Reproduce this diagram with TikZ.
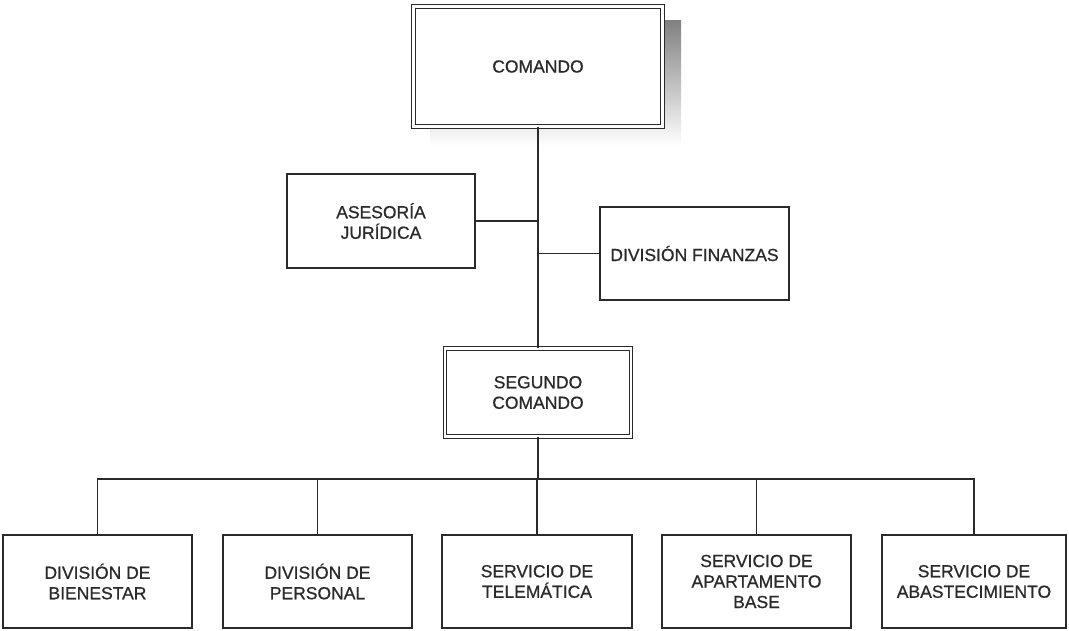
\documentclass[tikz,border=0pt]{standalone}
\usepackage{fontspec}
\setmainfont{Liberation Sans}
\definecolor{ink}{HTML}{2A2A2A}
\definecolor{shade}{HTML}{D0D2D8}
\begin{document}
\begin{tikzpicture}[x=1pt,y=-1pt,
  box/.style={draw=ink, line width=1.6pt, fill=white, text=ink, align=center,
    inner sep=2pt, font=\fontsize{17.5}{20.5}\selectfont\addfontfeatures{FakeBold=0.7}},
  dbox/.style={box, double=white, double distance=2.2pt, line width=1.2pt},
  link/.style={draw=ink, line width=1.6pt}]
\useasboundingbox (0,0) rectangle (1069,630);
\fill[shade] (430,20) rectangle (681,146);
\node[dbox, minimum width=249pt, minimum height=120pt] (com) at (538,66.5) {COMANDO};
\node[box, minimum width=188pt, minimum height=94pt] (ase) at (381,221) {ASESORÍA\\JURÍDICA};
\node[box, minimum width=189pt, minimum height=93pt] (fin) at (694.5,253.5) {DIVISIÓN FINANZAS};
\node[dbox, minimum width=186pt, minimum height=88pt] (seg) at (538,392.5) {SEGUNDO\\COMANDO};
\node[box, minimum width=189pt, minimum height=93pt] (b1) at (97.5,581.5) {DIVISIÓN DE\\BIENESTAR};
\node[box, minimum width=189pt, minimum height=93pt] (b2) at (317.5,581.5) {DIVISIÓN DE\\PERSONAL};
\node[box, minimum width=190pt, minimum height=93pt] (b3) at (537,581.5) {SERVICIO DE\\TELEMÁTICA};
\node[box, minimum width=189pt, minimum height=93pt] (b4) at (756.5,581.5) {SERVICIO DE\\APARTAMENTO\\BASE};
\node[box, minimum width=184pt, minimum height=93pt] (b5) at (974,581.5) {SERVICIO DE\\ABASTECIMIENTO};
\coordinate (busy) at (0,479);
\path[link] (com.south) -- (seg.north);
\path[link] (ase.east) -- (ase.east -| com.south);
\path[link] (fin.west) -- (fin.west -| com.south);
\path[link] (seg.south) -- (seg.south |- busy);
\path[link] (b1.north) |- (b5.north |- busy) -- (b5.north);
\path[link] (b2.north) -- (b2.north |- busy);
\path[link] (b3.north) -- (b3.north |- busy);
\path[link] (b4.north) -- (b4.north |- busy);
\end{tikzpicture}
\end{document}
